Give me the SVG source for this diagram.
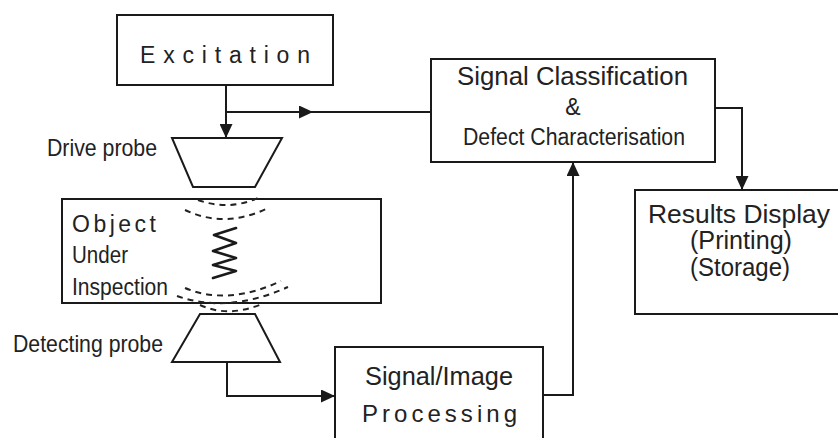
<svg xmlns="http://www.w3.org/2000/svg" width="838" height="438" viewBox="0 0 838 438">
<style>
.box{fill:none;stroke:#1a1a1a;stroke-width:2}
.probe{fill:#fff;stroke:#1a1a1a;stroke-width:2;stroke-linejoin:miter}
.conn{fill:none;stroke:#1a1a1a;stroke-width:2}
.wave{fill:none;stroke:#222;stroke-width:2;stroke-dasharray:6 5}
.t{font-family:"Liberation Sans",Arial,sans-serif;fill:#222}
</style>
<defs>
<marker id="ah" viewBox="0 0 14 13" refX="14" refY="6.5" markerWidth="14" markerHeight="13" markerUnits="userSpaceOnUse" orient="auto">
<path d="M0,0 L14,6.5 L0,13 z" fill="#1a1a1a"/>
</marker>
</defs>
<rect width="838" height="438" fill="#fff"/>

<g id="excitation">
<rect class="box" x="117" y="15" width="216" height="70"/>
<text class="t" x="140" y="63" font-size="23" textLength="170" lengthAdjust="spacing">Excitation</text>
</g>

<g id="drive-probe">
<polygon class="probe" points="172,138 282,138 255,187 193,187"/>
<text class="t" x="47" y="156" font-size="24" textLength="110" lengthAdjust="spacingAndGlyphs">Drive probe</text>
</g>

<g id="object">
<rect class="box" x="62" y="199" width="319" height="104"/>
<text class="t" x="72" y="232" font-size="23" textLength="84" lengthAdjust="spacing">Object</text>
<text class="t" x="72" y="263" font-size="23" textLength="56" lengthAdjust="spacingAndGlyphs">Under</text>
<text class="t" x="72" y="295" font-size="23" textLength="96" lengthAdjust="spacingAndGlyphs">Inspection</text>
<path class="wave" d="M198,200 Q228,211 258,198"/>
<path class="wave" d="M185,210 Q225,229 268,208"/>
<path class="wave" d="M185,288 Q228,306 281,281"/>
<path class="wave" d="M177,296 Q228,314 288,287"/>
<path class="wave" d="M200,305 Q228,318 262,304"/>
<path fill="none" stroke="#1a1a1a" stroke-width="2.6" stroke-linejoin="round" stroke-linecap="round" d="M236,228 L214,235 L236,243 L213,251 L236,258 L213,265 L236,271 L213,278"/>
</g>

<g id="detecting-probe">
<polygon class="probe" points="200,314 255,314 280,362 172,362"/>
<text class="t" x="13" y="352" font-size="24" textLength="150" lengthAdjust="spacingAndGlyphs">Detecting probe</text>
</g>

<g id="signal-image">
<rect class="box" x="335" y="347" width="208" height="100"/>
<text class="t" x="365" y="385" font-size="25" textLength="148" lengthAdjust="spacingAndGlyphs">Signal/Image</text>
<text class="t" x="362" y="422" font-size="24" textLength="155" lengthAdjust="spacing">Processing</text>
</g>

<g id="classification">
<rect class="box" x="431" y="59" width="284" height="103"/>
<text class="t" x="457" y="85" font-size="25" textLength="231" lengthAdjust="spacingAndGlyphs">Signal Classification</text>
<text class="t" x="573" y="115" font-size="23" text-anchor="middle">&amp;</text>
<text class="t" x="463" y="145" font-size="23" textLength="222" lengthAdjust="spacingAndGlyphs">Defect Characterisation</text>
</g>

<g id="results">
<rect class="box" x="635" y="190" width="215" height="124"/>
<text class="t" x="648" y="223" font-size="25" textLength="182" lengthAdjust="spacingAndGlyphs">Results Display</text>
<text class="t" x="690" y="249" font-size="25" textLength="102" lengthAdjust="spacingAndGlyphs">(Printing)</text>
<text class="t" x="690" y="276" font-size="25" textLength="100" lengthAdjust="spacingAndGlyphs">(Storage)</text>
</g>

<g id="connectors">
<path class="conn" d="M226,85 L226,138" marker-end="url(#ah)"/>
<path class="conn" d="M226,112 L313,112 L431,112" marker-mid="url(#ah)"/>
<path class="conn" d="M227,362 L227,396 L335,396" marker-end="url(#ah)"/>
<path class="conn" d="M543,395 L573,395 L573,162" marker-end="url(#ah)"/>
<path class="conn" d="M715,108 L742,108 L742,190" marker-end="url(#ah)"/>
</g>
</svg>
